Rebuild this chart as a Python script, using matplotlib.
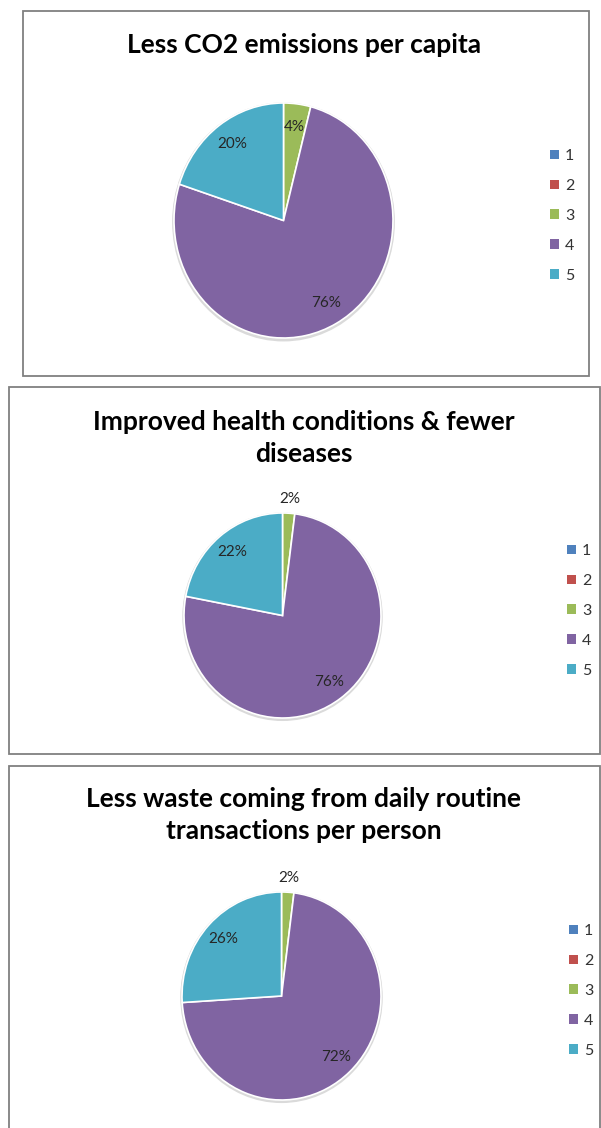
import matplotlib.pyplot as plt
import numpy as np
from matplotlib.patches import Rectangle, Ellipse, Patch

plt.rcParams['font.family'] = ['Lato', 'DejaVu Sans']

# survey answers (scale 1..5), share of respondents in percent
categories = ['1', '2', '3', '4', '5']
titles = [
    'Less CO2 emissions per capita',
    'Improved health conditions & fewer\ndiseases',
    'Less waste coming from daily routine\ntransactions per person',
]
co2_shares = [0, 0, 4, 76, 20]
health_shares = [0, 0, 2, 76, 22]
waste_shares = [0, 0, 2, 72, 26]

colors = ['#4F81BD', '#C0504D', '#9BBB59', '#8064A2', '#4BACC6']

W, H = 601, 1128


def fig_box(x0, y0, x1, y1):
    # pixel box (top-left origin) -> figure fraction rect
    return [x0 / W, 1 - y1 / H, (x1 - x0) / W, (y1 - y0) / H]


# frame, title centre, pie bounding box, legend top-left (all in pixels)
layout = [
    dict(frame=(23, 11, 589, 376), title_xy=(304, 45), pie=(174, 103, 393, 338), legend=(550, 149)),
    dict(frame=(9, 387, 600, 754), title_xy=(304, 438), pie=(184, 513, 381, 718), legend=(567, 544)),
    dict(frame=(9, 766, 600, 1140), title_xy=(304, 815), pie=(182, 892, 381, 1100), legend=(569, 924)),
]

fig = plt.figure(figsize=(W / 100, H / 100), dpi=100)

for title, shares, lay in zip(titles, [co2_shares, health_shares, waste_shares], layout):
    x0, y0, x1, y1 = lay['frame']
    fig.add_artist(Rectangle((x0 / W, 1 - y1 / H), (x1 - x0) / W, (y1 - y0) / H,
                             transform=fig.transFigure, fill=False,
                             edgecolor='#808080', linewidth=1.3))

    tx, ty = lay['title_xy']
    fig.text(tx / W, 1 - ty / H, title, ha='center', va='center',
             fontsize=19, fontweight='bold', color='black', linespacing=1.42)

    # pie axes padded a little so the soft rim is not clipped
    px0, py0, px1, py1 = lay['pie']
    pad = 0.05
    dx = (px1 - px0) / 2 * pad
    dy = (py1 - py0) / 2 * pad
    ax = fig.add_axes(fig_box(px0 - dx, py0 - dy, px1 + dx, py1 + dy))
    ax.add_patch(Ellipse((0, -0.012), 2.035, 2.035, facecolor='#dadada', edgecolor='none', zorder=0))
    wedges, _ = ax.pie(shares, colors=colors, startangle=90, counterclock=False,
                       wedgeprops=dict(edgecolor='white', linewidth=1.2))
    ax.set_aspect('auto')
    ax.set_xlim(-1 - pad, 1 + pad)
    ax.set_ylim(-1 - pad, 1 + pad)
    ax.axis('off')

    for w, v in zip(wedges, shares):
        if v == 0:
            continue
        ang = np.deg2rad((w.theta1 + w.theta2) / 2)
        d = 1.14 if v < 3 else 0.8
        ax.text(d * np.cos(ang), d * np.sin(ang), f'{v}%', ha='center', va='center',
                fontsize=11, color='#262626', clip_on=False)

    lx, ly = lay['legend']
    handles = [Patch(facecolor=c, edgecolor='none') for c in colors]
    ax.legend(handles, categories, loc='upper left',
              bbox_to_anchor=(lx / W, 1 - ly / H), bbox_transform=fig.transFigure,
              frameon=False, fontsize=11.5, labelcolor='#333333',
              handlelength=0.55, handleheight=0.55, handletextpad=0.4,
              labelspacing=1.0, borderpad=0, borderaxespad=0)

fig.savefig('out.png', dpi=100)
